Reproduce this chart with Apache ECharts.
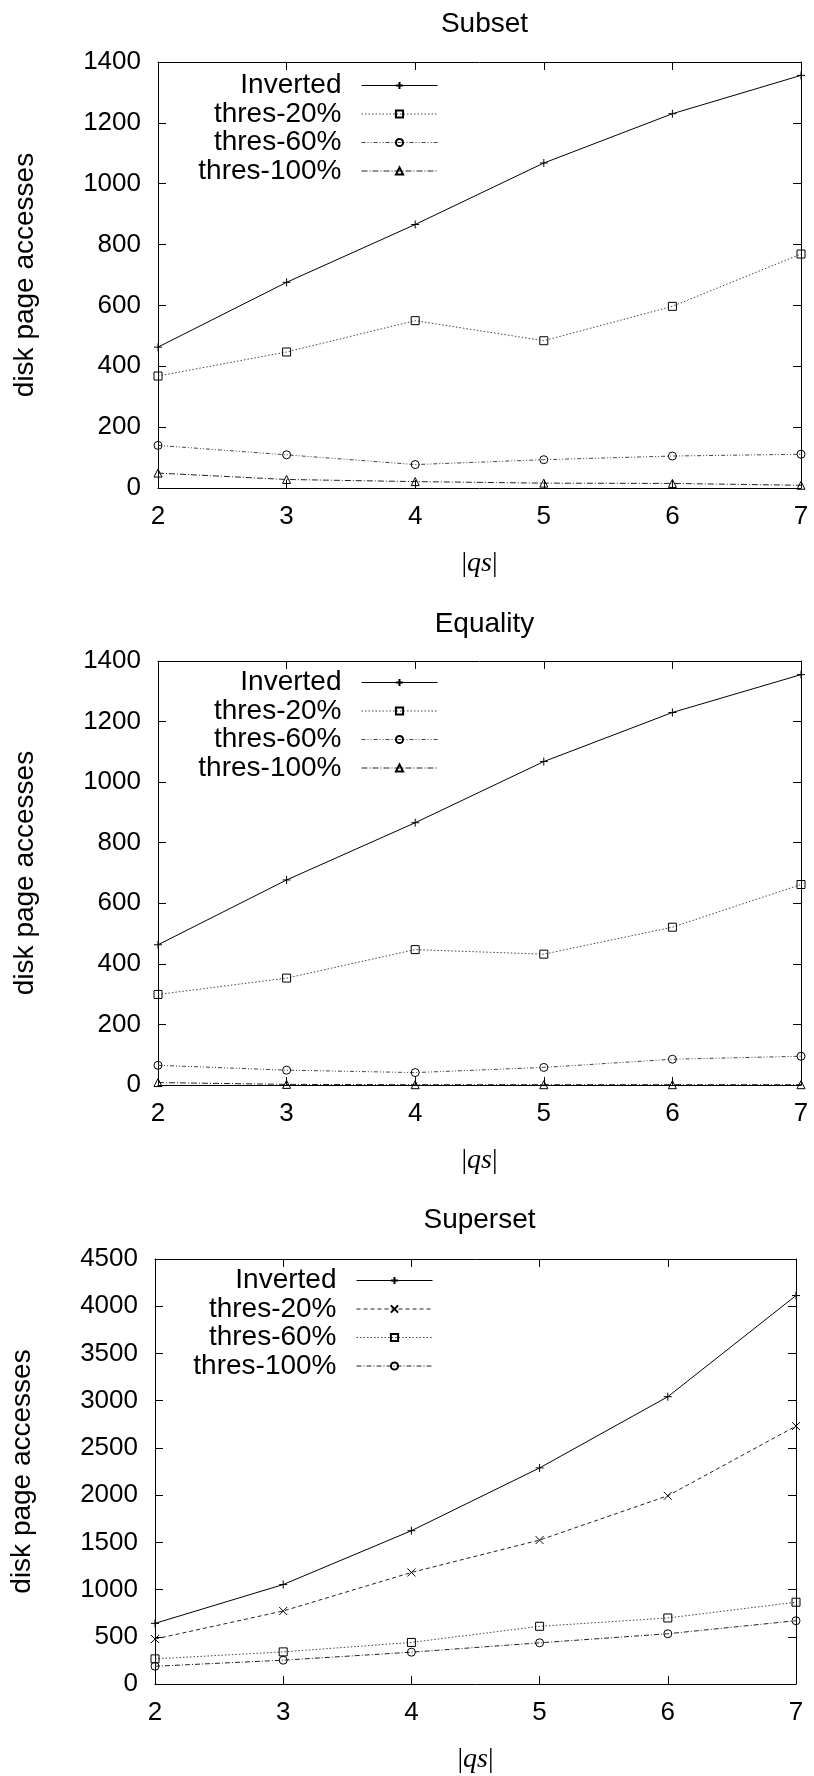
<!DOCTYPE html>
<html>
<head>
<meta charset="utf-8">
<script src="https://cdn.jsdelivr.net/npm/echarts@6/dist/echarts.min.js"></script>
<style>
html,body{margin:0;padding:0;background:#fff;}
#chart{width:814px;height:1776px;}
</style>
</head>
<body>
<div id="chart"></div>
<script>
// ---- data ----
const qs = [2, 3, 4, 5, 6, 7];
const seriesNames = ['Inverted', 'thres-20%', 'thres-60%', 'thres-100%'];
const chartTitles = ['Subset', 'Equality', 'Superset'];

const subsetInverted = [463, 676, 866, 1068, 1230, 1356];
const subset20 = [368, 447, 550, 484, 597, 769];
const subset60 = [140, 109, 77, 93, 105, 111];
const subset100 = [49, 28, 21, 16, 15, 9];

const equalityInverted = [463, 677, 866, 1068, 1230, 1355];
const equality20 = [299, 353, 447, 432, 521, 662];
const equality60 = [65, 49, 41, 58, 85, 95];
const equality100 = [8, 2, 1, 1, 1, 1];

const supersetInverted = [642, 1053, 1623, 2288, 3042, 4113];
const superset20 = [476, 773, 1181, 1524, 1993, 2731];
const superset60 = [266, 340, 440, 611, 699, 866];
const superset100 = [188, 252, 337, 436, 532, 670];

const yMax = [1400, 1400, 4500];
const yStep = [200, 200, 500];

// ---- styling ----
const FONT = 'Liberation Sans';
const PLUS = 'path://M5,0L5,10M0,5L10,5';
const CROSS = 'path://M0,0L10,10M0,10L10,0';

const styles12 = [
  {symbol: PLUS, dash: 'solid', color: '#000'},
  {symbol: 'rect', dash: [1.5, 2], color: '#444'},
  {symbol: 'circle', dash: [4, 2, 1, 2, 1, 2], color: '#444'},
  {symbol: 'triangle', dash: [6, 2, 1, 2], color: '#222'}
];
const styles3 = [
  {symbol: PLUS, dash: 'solid', color: '#000'},
  {symbol: CROSS, dash: [4, 3], color: '#222'},
  {symbol: 'rect', dash: [1.5, 2], color: '#444'},
  {symbol: 'circle', dash: [5, 2, 1, 2], color: '#222'}
];

const datasets = [
  [subsetInverted, subset20, subset60, subset100],
  [equalityInverted, equality20, equality60, equality100],
  [supersetInverted, superset20, superset60, superset100]
];
const chartStyles = [styles12, styles12, styles3];

const grids = [
  {left: 158, right: 13, top: 62, height: 426},
  {left: 158, right: 13, top: 661, height: 424},
  {left: 153, right: 18, top: 1259, height: 425}
];
const titleY = [19, 619, 1215];
const legendTop = [66.5, 663.5, 1261.5];
const legendRight = [371, 371, 376];

const option = {
  animation: false,
  backgroundColor: '#fff',
  title: [], grid: [], xAxis: [], yAxis: [], legend: [], series: []
};

for (let c = 0; c < 3; c++) {
  const g = grids[c];
  option.grid.push(Object.assign({show: false}, g));
  const cx = g.left + (814 - g.left - g.right) / 2;
  option.title.push({
    text: chartTitles[c], left: cx, top: titleY[c] - 14, textAlign: 'center',
    textStyle: {fontFamily: FONT, fontSize: 28, fontWeight: 'normal', color: '#000', lineHeight: 28}
  });
  const axLine = {show: true, onZero: false, lineStyle: {color: '#000', width: 1}};
  option.xAxis.push({
    type: 'value', gridIndex: c, min: 2, max: 7, interval: 1, position: 'bottom',
    axisLine: axLine, splitLine: {show: false},
    axisTick: {show: true, inside: true, length: 8, lineStyle: {color: '#000'}},
    axisLabel: {fontFamily: FONT, fontSize: 26, color: '#000', margin: 16, formatter: v => String(v)},
    name: '|{i|qs}|', nameLocation: 'middle', nameGap: 62,
    nameTextStyle: {fontFamily: 'Liberation Serif', fontSize: 28, color: '#000',
      rich: {i: {fontFamily: 'Liberation Serif', fontStyle: 'italic', fontSize: 28, color: '#000'}}}
  });
  option.xAxis.push({
    type: 'value', gridIndex: c, min: 2, max: 7, interval: 1, position: 'top',
    axisLine: axLine, splitLine: {show: false},
    axisTick: {show: true, inside: true, length: 8, lineStyle: {color: '#000'}},
    axisLabel: {show: false}
  });
  option.yAxis.push({
    type: 'value', gridIndex: c, min: 0, max: yMax[c], interval: yStep[c], position: 'left',
    axisLine: axLine, splitLine: {show: false},
    axisTick: {show: true, inside: true, length: 8, lineStyle: {color: '#000'}},
    axisLabel: {fontFamily: FONT, fontSize: 26, color: '#000', margin: 17, formatter: v => String(v)},
    name: 'disk page accesses', nameLocation: 'middle', nameGap: 119, nameRotate: 90,
    nameTextStyle: {fontFamily: FONT, fontSize: 28, color: '#000'}
  });
  option.yAxis.push({
    type: 'value', gridIndex: c, min: 0, max: yMax[c], interval: yStep[c], position: 'right',
    axisLine: axLine, splitLine: {show: false},
    axisTick: {show: true, inside: true, length: 8, lineStyle: {color: '#000'}},
    axisLabel: {show: false}
  });

  const legendData = [];
  for (let s = 0; s < 4; s++) {
    const st = chartStyles[c][s];
    const vals = datasets[c][s];
    const nm = c + '|' + seriesNames[s];
    legendData.push(nm);
    option.series.push({
      type: 'line', name: nm, xAxisIndex: c * 2, yAxisIndex: c * 2,
      data: qs.map((x, i) => [x, vals[i]]),
      symbol: st.symbol, symbolSize: 8, showSymbol: true,
      lineStyle: {color: st.color, width: 1, type: st.dash},
      itemStyle: {color: 'rgba(255,255,255,0)', borderColor: '#000', borderWidth: 1},
      emphasis: {disabled: true},
      z: 10 - s
    });
  }
  option.legend.push({
    data: legendData, orient: 'vertical', align: 'right',
    right: legendRight[c], top: legendTop[c],
    itemWidth: 76, itemHeight: 9, itemGap: 0.5,
    lineStyle: {width: 1},
    formatter: n => n.split('|')[1],
    textStyle: {fontFamily: FONT, fontSize: 28, color: '#000', lineHeight: 27, padding: [0, 15, 0, 0]},
    selectedMode: false
  });
}

const chart = echarts.init(document.getElementById('chart'), null, {renderer: 'canvas'});
chart.setOption(option);
</script>
</body>
</html>
